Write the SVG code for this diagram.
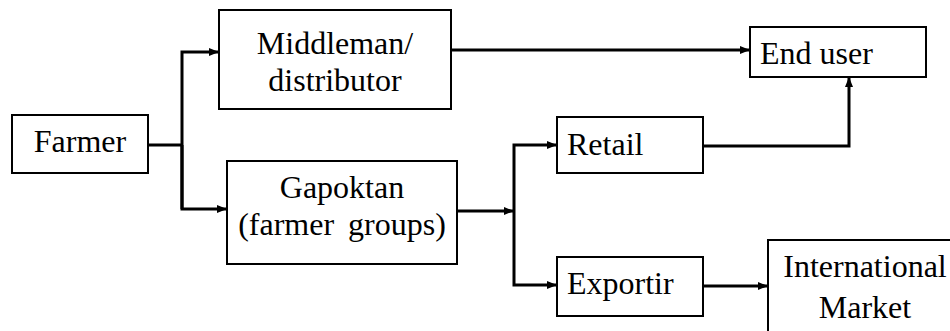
<svg xmlns="http://www.w3.org/2000/svg" width="950" height="331" viewBox="0 0 950 331">
<defs>
<marker id="ah" markerWidth="10" markerHeight="8" refX="9" refY="4" orient="auto" markerUnits="userSpaceOnUse">
<path d="M0,0 L10,4 L0,8 Z" fill="#000"/>
</marker>
</defs>
<rect width="950" height="331" fill="#fff"/>
<g id="connectors" fill="none" stroke="#000" stroke-width="3">
<path d="M148,145 H182"/>
<path d="M182,209 V52 H218" marker-end="url(#ah)"/>
<path d="M182,145 V209 H226" marker-end="url(#ah)"/>
<path d="M451,50 H749" marker-end="url(#ah)"/>
<path d="M457,211 H513" marker-end="url(#ah)"/>
<path d="M514,211 V145 H556" marker-end="url(#ah)"/>
<path d="M514,211 V285 H556" marker-end="url(#ah)"/>
<path d="M703,146 H849 V78" marker-end="url(#ah)"/>
<path d="M703,286 H767" marker-end="url(#ah)"/>
</g>
<g id="farmer"><rect x="12" y="115" width="136" height="58" fill="#fff" stroke="#000" stroke-width="2"/><text style="font-family:'Liberation Serif',serif !important;font-size:32px" text-anchor="middle" x="80" y="152">Farmer</text></g>
<g id="middleman"><rect x="219" y="10" width="232" height="99" fill="#fff" stroke="#000" stroke-width="2"/><text style="font-family:'Liberation Serif',serif !important;font-size:32px" text-anchor="middle" x="335" y="54">Middleman/</text><text style="font-family:'Liberation Serif',serif !important;font-size:32px" text-anchor="middle" x="335" y="91">distributor</text></g>
<g id="gapoktan"><rect x="227" y="161" width="230" height="103" fill="#fff" stroke="#000" stroke-width="2"/><text style="font-family:'Liberation Serif',serif !important;font-size:32px" text-anchor="middle" x="342" y="198">Gapoktan</text><text style="font-family:'Liberation Serif',serif !important;font-size:32px;word-spacing:6px" text-anchor="middle" x="342" y="235">(farmer groups)</text></g>
<g id="enduser"><rect x="750" y="27" width="176" height="50" fill="#fff" stroke="#000" stroke-width="2"/><text style="font-family:'Liberation Serif',serif !important;font-size:32px" x="760" y="64">End user</text></g>
<g id="retail"><rect x="557" y="117" width="146" height="56" fill="#fff" stroke="#000" stroke-width="2"/><text style="font-family:'Liberation Serif',serif !important;font-size:32px" x="567" y="155">Retail</text></g>
<g id="exportir"><rect x="557" y="257" width="146" height="59" fill="#fff" stroke="#000" stroke-width="2"/><text style="font-family:'Liberation Serif',serif !important;font-size:32px" x="567" y="294">Exportir</text></g>
<g id="international"><rect x="768" y="240" width="200" height="120" fill="#fff" stroke="#000" stroke-width="2"/><text style="font-family:'Liberation Serif',serif !important;font-size:32px" text-anchor="middle" x="865" y="277">International</text><text style="font-family:'Liberation Serif',serif !important;font-size:32px" text-anchor="middle" x="865" y="318">Market</text></g>
</svg>
